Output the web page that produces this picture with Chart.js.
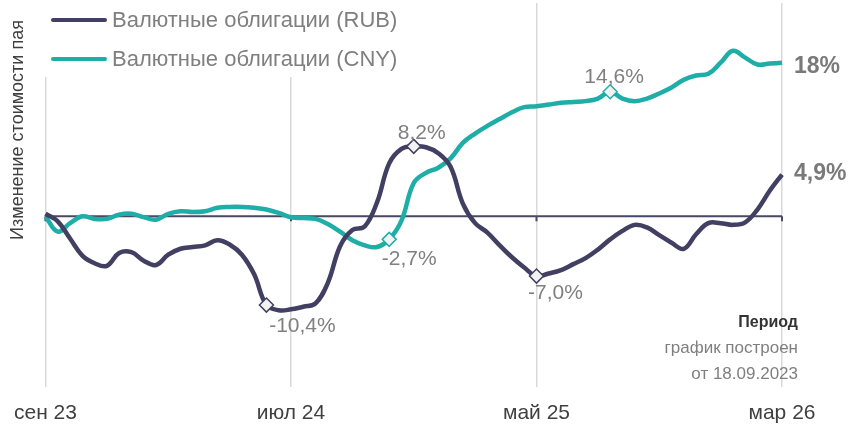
<!DOCTYPE html>
<html>
<head>
<meta charset="utf-8">
<script src="https://cdn.jsdelivr.net/npm/chart.js@4"></script>
<style>
  body { margin: 0; background: #fff; }
</style>
</head>
<body>
<canvas id="myChart" width="849" height="425"></canvas>
<script>
// months on the axis (every 10th is labelled)
const months = ['сен 23','окт 23','ноя 23','дек 23','янв 24','фев 24','мар 24','апр 24','май 24','июн 24',
  'июл 24','авг 24','сен 24','окт 24','ноя 24','дек 24','янв 25','фев 25','мар 25','апр 25',
  'май 25','июн 25','июл 25','авг 25','сен 25','окт 25','ноя 25','дек 25','янв 26','фев 26','мар 26'];

// values every half month, % change of unit price
const rub = [0.3, -0.6, -2.6, -4.6, -5.5, -5.8, -4.3, -4.2, -5.2, -5.7,
  -4.5, -3.8, -3.6, -3.4, -2.8, -3.3, -4.5, -6.8, -10.4, -11.0,
  -10.9, -10.6, -10.2, -7.8, -3.5, -1.6, -1.2, 1.6, 6.2, 7.9,
  8.2, 8.1, 7.4, 5.8, 1.5, -0.8, -1.9, -3.4, -4.8, -6.0,
  -7.0, -6.7, -6.3, -5.6, -4.9, -3.9, -2.7, -1.7, -1.0, -1.3,
  -2.2, -3.1, -3.8, -2.1, -0.8, -0.8, -1.0, -0.7, 0.8, 3.0, 4.9];
const cny = [0.0, -1.8, -0.8, 0.0, -0.3, -0.3, 0.2, 0.3, -0.1, -0.4,
  0.3, 0.6, 0.5, 0.6, 1.0, 1.1, 1.1, 1.0, 0.8, 0.4,
  -0.1, -0.2, -0.3, -0.9, -1.8, -2.8, -3.4, -3.6, -2.7, -0.5,
  3.9, 5.1, 5.7, 6.8, 8.6, 9.7, 10.6, 11.4, 12.2, 12.8,
  12.9, 13.1, 13.3, 13.4, 13.5, 13.8, 14.6, 13.8, 13.5, 13.8,
  14.4, 15.1, 16.0, 16.5, 16.7, 18.0, 19.4, 18.6, 17.8, 17.9, 18.0];

const rubMarks = [18, 30, 40];
const cnyMarks = [28, 46];

const labels = [];
months.forEach((m, i) => {
  labels.push(m);
  if (i < months.length - 1) labels.push('');
});

const RUB_COLOR = '#413f62';
const CNY_COLOR = '#1fada8';
const FONT = "'Liberation Sans', Arial, sans-serif";

// label offsets (px) relative to the marked point
const noteOffsets = {
  rub: { 18: [36, 21], 30: [8, -13], 40: [19, 17] },
  cny: { 28: [20, 20], 46: [4, -15] }
};

function fmtNote(v) {
  return v.toFixed(1).replace('.', ',') + '%';
}
function fmtEnd(v) {
  return (Number.isInteger(v) ? String(v) : v.toFixed(1).replace('.', ',')) + '%';
}

function markerRadius(marks) {
  return ctx => marks.includes(ctx.dataIndex) ? 7 : 0;
}

const overlay = {
  id: 'overlay',
  beforeDatasetsDraw(chart) {
    const c = chart.ctx, x = chart.scales.x, y = chart.scales.y;
    const y0 = y.getPixelForValue(0);
    c.save();
    c.strokeStyle = '#4a4868';
    c.lineWidth = 2;
    c.beginPath();
    c.moveTo(x.left, y0);
    c.lineTo(x.right, y0);
    [0, 20, 40, 60].forEach(i => {
      const px = x.getPixelForValue(i);
      c.moveTo(px, y0);
      c.lineTo(px, y0 + 5);
    });
    c.stroke();
    c.restore();
  },
  afterDatasetsDraw(chart) {
    const c = chart.ctx;
    c.save();
    c.font = '21px ' + FONT;
    c.fillStyle = '#808080';
    c.textAlign = 'center';
    c.textBaseline = 'middle';
    [['rub', 0, rub], ['cny', 1, cny]].forEach(([key, di, vals]) => {
      const meta = chart.getDatasetMeta(di);
      Object.entries(noteOffsets[key]).forEach(([idx, off]) => {
        const pt = meta.data[idx];
        c.fillText(fmtNote(vals[idx]), pt.x + off[0], pt.y + off[1]);
      });
      // end value
      const last = meta.data[vals.length - 1];
      c.save();
      c.font = 'bold 23px ' + FONT;
      c.fillStyle = '#7a7a7a';
      c.textAlign = 'left';
      c.fillText(fmtEnd(vals[vals.length - 1]), last.x + 12, last.y + (key === 'cny' ? 4 : -1));
      c.restore();
    });
    c.restore();
  },
  afterDraw(chart) {
    const c = chart.ctx;
    c.save();
    // legend over the plot
    c.fillStyle = '#fff';
    c.fillRect(38, 0, 400, 77);
    [['Валютные облигации (RUB)', RUB_COLOR, 20], ['Валютные облигации (CNY)', CNY_COLOR, 59]].forEach(([t, col, ly]) => {
      c.strokeStyle = col;
      c.lineWidth = 4;
      c.lineCap = 'round';
      c.beginPath();
      c.moveTo(53, ly);
      c.lineTo(105, ly);
      c.stroke();
      c.fillStyle = '#7f7f7f';
      c.font = '22px ' + FONT;
      c.textBaseline = 'middle';
      c.textAlign = 'left';
      c.fillText(t, 112, ly + 1);
    });
    // axis title
    c.save();
    c.translate(18, 130);
    c.rotate(-Math.PI / 2);
    c.font = '18px ' + FONT;
    c.fillStyle = '#404040';
    c.textAlign = 'center';
    c.textBaseline = 'middle';
    c.fillText('Изменение стоимости пая', 0, 0);
    c.restore();
    // period note
    c.textAlign = 'right';
    c.textBaseline = 'middle';
    c.fillStyle = '#333';
    c.font = 'bold 16px ' + FONT;
    c.fillText('Период', 798, 323);
    c.fillStyle = '#7f7f7f';
    c.font = '17px ' + FONT;
    c.fillText('график построен', 798, 348);
    c.fillText('от 18.09.2023', 798, 374);
    c.restore();
  }
};

new Chart(document.getElementById('myChart'), {
  type: 'line',
  data: {
    labels: labels,
    datasets: [
      {
        label: 'Валютные облигации (RUB)',
        data: rub,
        borderColor: RUB_COLOR,
        borderWidth: 4.5,
        tension: 0.4,
        pointStyle: 'rectRot',
        pointRadius: markerRadius(rubMarks),
        pointBackgroundColor: '#f2f2f2',
        pointBorderColor: RUB_COLOR,
        pointBorderWidth: 1.5
      },
      {
        label: 'Валютные облигации (CNY)',
        data: cny,
        borderColor: CNY_COLOR,
        borderWidth: 4.5,
        tension: 0.4,
        pointStyle: 'rectRot',
        pointRadius: markerRadius(cnyMarks),
        pointBackgroundColor: '#f2f2f2',
        pointBorderColor: CNY_COLOR,
        pointBorderWidth: 1.5
      }
    ]
  },
  options: {
    responsive: false,
    animation: false,
    layout: { padding: { left: 44, right: 67, top: 3, bottom: 0 } },
    plugins: { legend: { display: false }, tooltip: { enabled: false } },
    scales: {
      x: {
        afterBuildTicks: axis => { axis.ticks = axis.ticks.filter(t => t.value % 20 === 0); },
        afterFit: s => { s.height = 38; },
        grid: { color: '#d9d9d9', lineWidth: 1.5, drawTicks: false },
        border: { display: false },
        ticks: {
          autoSkip: false,
          maxRotation: 0,
          padding: 14,
          color: '#404040',
          font: { family: FONT, size: 21 },
          callback: v => labels[v]
        }
      },
      y: {
        display: false,
        min: -20,
        max: 25
      }
    }
  },
  plugins: [overlay]
});
</script>
</body>
</html>
